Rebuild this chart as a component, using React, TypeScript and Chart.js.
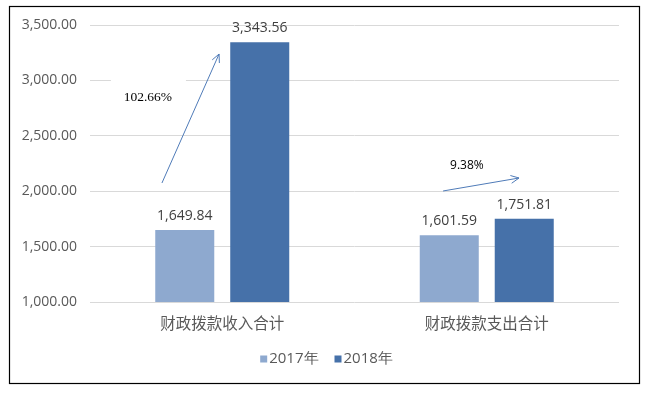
import React, { useEffect, useRef } from "react";
import { Chart, registerables } from "chart.js";

Chart.register(...registerables);

const categories = ["财政拨款收入合计", "财政拨款支出合计"];
const seriesNames = ["2017年", "2018年"];
const values2017 = [1649.84, 1601.59];
const values2018 = [3343.56, 1751.81];
const seriesColors = ["#8EA9CF", "#4671A9"];
const yMin = 1000;
const yMax = 3500;
const yStep = 500;
// growth annotations: [x (category units), y (value)]
const growthLabels = ["102.66%", "9.38%"];
const arrowStarts = [[-0.228, 2074], [0.835, 2002]];
const arrowEnds = [[-0.012, 3238], [1.122, 2119]];
const growthLabelPos = [[-0.281, 2850], [0.925, 2227]];

const fmt = (v: number) =>
  v.toLocaleString("en-US", { minimumFractionDigits: 2, maximumFractionDigits: 2 });

const NUM_FONT = "'Open Sans', 'Noto Sans', sans-serif";
const CJK_FONT = "'Noto Sans CJK SC', 'Noto Sans', sans-serif";

const overlayPlugin = {
  id: "overlay",
  afterDatasetsDraw(chart: any) {
    const ctx = chart.ctx;
    const xs = chart.scales.x;
    const ys = chart.scales.y;
    const catW = xs.getPixelForValue(1) - xs.getPixelForValue(0);
    const px = (c: number) => xs.getPixelForValue(0) + c * catW;
    ctx.save();
    // data labels
    ctx.font = `14px ${NUM_FONT}`;
    ctx.fillStyle = "#404040";
    ctx.textAlign = "center";
    ctx.textBaseline = "bottom";
    chart.data.datasets.forEach((ds: any, di: number) => {
      const meta = chart.getDatasetMeta(di);
      meta.data.forEach((el: any, i: number) => {
        ctx.fillText(fmt(ds.data[i]), el.x, el.y - 7);
      });
    });
    // growth label boxes & text
    growthLabels.forEach((t, i) => {
      const cx = px(growthLabelPos[i][0]);
      const cy = ys.getPixelForValue(growthLabelPos[i][1]);
      if (i === 0) {
        ctx.fillStyle = "#ffffff";
        ctx.fillRect(cx - 37, cy - 24, 75, 44);
      }
      ctx.fillStyle = "#000000";
      ctx.font = i === 0 ? "13.5px 'Liberation Serif', serif" : `12px ${NUM_FONT}`;
      ctx.textBaseline = "middle";
      ctx.fillText(t, cx, cy);
    });
    // arrows
    ctx.strokeStyle = "#4F7BB8";
    ctx.lineWidth = 1;
    arrowStarts.forEach((s, i) => {
      const x1 = px(s[0]);
      const y1 = ys.getPixelForValue(s[1]);
      const x2 = px(arrowEnds[i][0]);
      const y2 = ys.getPixelForValue(arrowEnds[i][1]);
      const ang = Math.atan2(y2 - y1, x2 - x1);
      const L = 9;
      const a = Math.PI / 7;
      ctx.beginPath();
      ctx.moveTo(x1, y1);
      ctx.lineTo(x2, y2);
      ctx.moveTo(x2 - L * Math.cos(ang - a), y2 - L * Math.sin(ang - a));
      ctx.lineTo(x2, y2);
      ctx.lineTo(x2 - L * Math.cos(ang + a), y2 - L * Math.sin(ang + a));
      ctx.stroke();
    });
    // legend (centred on the canvas)
    ctx.font = `15px ${NUM_FONT}`;
    ctx.textAlign = "left";
    ctx.textBaseline = "middle";
    const box = 7, gap = 2, spacing = 16;
    const widths = seriesNames.map((n) => ctx.measureText(n).width);
    const total = widths.reduce((a, w) => a + box + gap + w, 0) + spacing * (seriesNames.length - 1);
    let lx = chart.width / 2 - total / 2;
    const ly = 359;
    seriesNames.forEach((n, i) => {
      ctx.fillStyle = seriesColors[i];
      ctx.fillRect(lx, ly - 3.5, box, box);
      ctx.fillStyle = "#595959";
      ctx.fillText(n, lx + box + gap, ly);
      lx += box + gap + widths[i] + spacing;
    });
    ctx.restore();
  },
  afterDraw(chart: any) {
    const ctx = chart.ctx;
    ctx.save();
    ctx.strokeStyle = "#000000";
    ctx.lineWidth = 1.2;
    ctx.strokeRect(9.5, 6.5, 630, 377);
    ctx.restore();
  },
};

export default function App() {
  const ref = useRef<HTMLCanvasElement>(null);
  useEffect(() => {
    if (!ref.current) return;
    const chart = new Chart(ref.current, {
      type: "bar",
      data: {
        labels: categories,
        datasets: [
          { label: seriesNames[0], data: values2017, backgroundColor: seriesColors[0] },
          { label: seriesNames[1], data: values2018, backgroundColor: seriesColors[1] },
        ],
      },
      options: {
        responsive: false,
        animation: false,
        categoryPercentage: 0.567,
        barPercentage: 0.787,
        layout: { padding: { left: 10, right: 34, top: 25, bottom: 55 } },
        plugins: {
          tooltip: { enabled: false },
          legend: { display: false },
        },
        scales: {
          x: {
            grid: { display: false, drawTicks: false },
            border: { display: false },
            ticks: { color: "#595959", padding: 12, font: { family: CJK_FONT, size: 15.5 } },
            afterFit: (s: any) => { s.height = 38; },
          },
          y: {
            min: yMin,
            max: yMax,
            grid: { color: "#D9D9D9", drawTicks: false },
            border: { display: false },
            ticks: {
              stepSize: yStep,
              padding: 13,
              color: "#595959",
              font: { family: NUM_FONT, size: 14 },
              callback: (v: any) => fmt(Number(v)),
            },
            afterFit: (s: any) => { s.width = 80; },
          },
        },
      },
      plugins: [overlayPlugin],
    } as any);
    return () => chart.destroy();
  }, []);
  return (
    <div style={{ position: "fixed", left: 0, top: 0, width: 653, height: 395, background: "#fff" }}>
      <canvas ref={ref} width={653} height={395} style={{ display: "block" }} />
    </div>
  );
}
